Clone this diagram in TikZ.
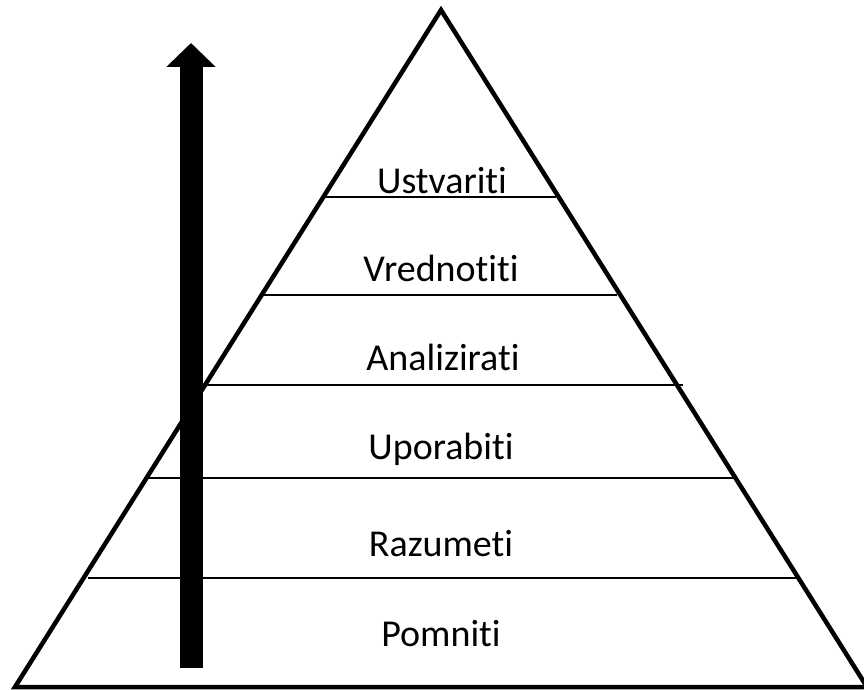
\documentclass[tikz,border=0pt]{standalone}
\usepackage{fontspec}
\setmainfont{Carlito}[Ligatures=NoCommon]
\usetikzlibrary{arrows.meta}
\begin{document}
\begin{tikzpicture}[x=1pt,y=-1pt,
  level/.style={anchor=base, font=\fontsize{38}{44}\selectfont}]
\useasboundingbox (0,0) rectangle (864,690);
% outline of the pyramid
\coordinate (apex) at (441,10);
\coordinate (left corner) at (15,687);
\coordinate (right corner) at (867,687);
\draw[line width=4.5pt, line join=miter] (apex) -- (left corner) -- (right corner) -- cycle;

% lines between the levels (y / left end / right end)
\foreach \y/\l/\r in {197/325/556, 295/264/617, 385/205/683, 478/148/735, 578/88/797}
  \draw[line width=2.2pt] (\l,\y) -- (\r,\y);

% level names, bottom to top
\node[level] (pomniti)     at (441,646) {Pomniti};
\node[level] (razumeti)    at (441,556) {Razumeti};
\node[level] (uporabiti)   at (441,459) {Uporabiti};
\node[level] (analizirati) at (443,370) {Analizirati};
\node[level] (vrednotiti)  at (441,281) {Vrednotiti};
\node[level] (ustvariti)   at (442,193) {Ustvariti};

% thick arrow going up
\coordinate (arrow foot) at (191,668);
\coordinate (arrow tip)  at (191,43);
\draw[line width=23pt, -{Triangle[length=24pt, width=48pt]}] (arrow foot) -- (arrow tip);
\end{tikzpicture}
\end{document}
